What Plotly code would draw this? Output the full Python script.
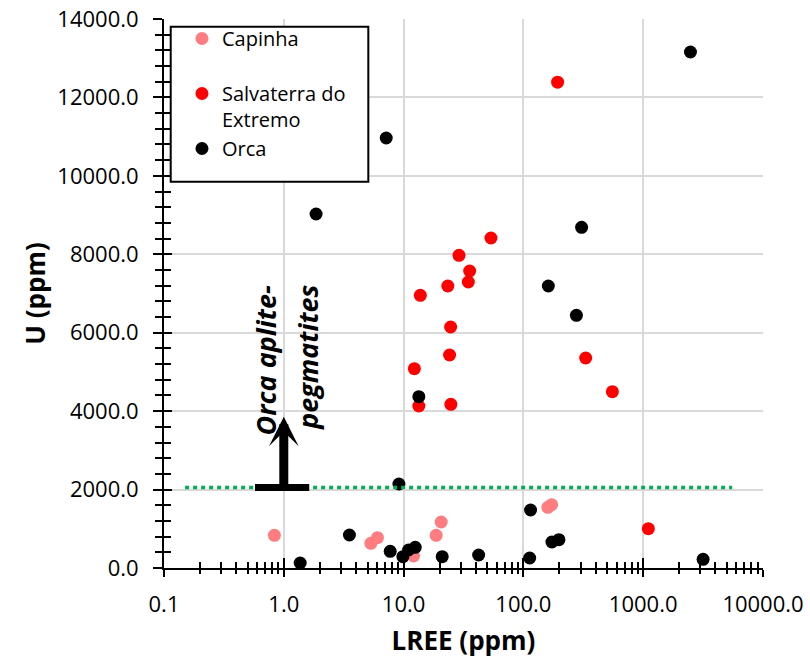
import math
import plotly.graph_objects as go

# ---------------- data ----------------
CAPINHA_LREE = [0.835, 5.33, 6.05, 18.7, 20.6, 12.1, 160, 172]
CAPINHA_U = [834, 629, 773, 834, 1173, 306, 1547, 1615]

SALV_LREE = [193, 53.6, 29.0, 35.6, 34.7, 23.4, 13.8, 24.7, 24.2, 12.3, 331, 553, 13.4, 24.8, 1104]
SALV_U = [12390, 8415, 7973, 7574, 7293, 7191, 6954, 6146, 5432, 5082, 5355, 4496, 4131, 4174, 1003]

ORCA_LREE = [2480, 7.16, 1.86, 306, 161.5, 277, 13.4, 9.14, 3.53, 1.37, 7.73, 9.86, 11.0, 12.5,
             21.0, 42.3, 114.8, 112.8, 173, 198, 3162]
ORCA_U = [13158, 10965, 9027, 8688, 7191, 6444, 4369, 2142, 842, 128, 425, 289, 459, 527,
          288, 332, 1479, 255, 663, 722, 221]

X_TICKS = [0.1, 1, 10, 100, 1000, 10000]
X_TICK_LABELS = ["0.1", "1.0", "10.0", "100.0", "1000.0", "10000.0"]
Y_TICKS = [0, 2000, 4000, 6000, 8000, 10000, 12000, 14000]
Y_TICK_LABELS = ["0.0", "2000.0", "4000.0", "6000.0", "8000.0", "10000.0", "12000.0", "14000.0"]

THRESHOLD_U = 2050            # Orca aplite-pegmatite limit
THRESHOLD_LREE = [0.15, 5530]  # extent of dotted line
ARROW_LREE = 1.0
ARROW_TIP_U = 3860
BAR_LREE = [0.575, 1.63]

FONT = "Open Sans"
C_CAP = "#ff7c80"
C_SAL = "#ff0000"
C_ORC = "#000000"

fig = go.Figure()
fig.add_trace(go.Scatter(x=CAPINHA_LREE, y=CAPINHA_U, mode="markers", name="Capinha<br>\u00a0",
                         marker=dict(color=C_CAP, size=13)))
fig.add_trace(go.Scatter(x=SALV_LREE, y=SALV_U, mode="markers", name="Salvaterra do<br>Extremo",
                         marker=dict(color=C_SAL, size=13)))
fig.add_trace(go.Scatter(x=ORCA_LREE, y=ORCA_U, mode="markers", name="Orca",
                         marker=dict(color=C_ORC, size=13)))
# dummy trace for overlay axes (inner half of crossing ticks)
fig.add_trace(go.Scatter(x=[], y=[], xaxis="x2", yaxis="y2", showlegend=False, hoverinfo="skip"))

fig.update_layout(
    width=810, height=665,
    margin=dict(l=164, r=47, t=19, b=97),
    plot_bgcolor="white", paper_bgcolor="white",
    font=dict(family=FONT, size=22, color="black"),
    showlegend=True,
    legend=dict(x=0.03, y=1.0, xanchor="left", yanchor="top",
                bgcolor="rgba(0,0,0,0)", borderwidth=0,
                font=dict(family=FONT, size=20, color="black"),
                valign="top", itemwidth=30),
    xaxis=dict(type="log", range=[-1, 4], tickmode="array", tickvals=X_TICKS, ticktext=X_TICK_LABELS,
               ticks="outside", ticklen=7, tickwidth=2, tickcolor="black",
               minor=dict(ticks="outside", ticklen=4, tickwidth=1.5, tickcolor="black", dtick="D1", showgrid=False),
               showgrid=True, gridcolor="#d9d9d9", gridwidth=1.5,
               showline=True, linecolor="black", linewidth=2, zeroline=False,
               ticklabelstandoff=9, automargin=False,
               title=dict(text="<b>LREE (ppm)</b>", font=dict(family=FONT, size=26), standoff=14)),
    yaxis=dict(range=[0, 14000], tickmode="array", tickvals=Y_TICKS, ticktext=Y_TICK_LABELS,
               ticks="outside", ticklen=9, tickwidth=2, tickcolor="black",
               minor=dict(ticks="outside", ticklen=7, tickwidth=1.5, tickcolor="black", dtick=400, showgrid=False),
               showgrid=True, gridcolor="#d9d9d9", gridwidth=1.5,
               showline=True, linecolor="black", linewidth=2, zeroline=False,
               ticklabelstandoff=10, automargin=False,
               title=dict(text="<b>U (ppm)</b>", font=dict(family=FONT, size=26), standoff=4)),
    xaxis2=dict(type="log", range=[-1, 4], overlaying="x", anchor="y", side="bottom",
                tickmode="array", tickvals=X_TICKS, showticklabels=False,
                ticks="inside", ticklen=10, tickwidth=2, tickcolor="black",
                minor=dict(ticks="inside", ticklen=6, tickwidth=1.5, tickcolor="black", dtick="D1", showgrid=False),
                showgrid=False, showline=False, zeroline=False, automargin=False),
    yaxis2=dict(range=[0, 14000], overlaying="y", anchor="x", side="left",
                tickmode="array", tickvals=Y_TICKS, showticklabels=False,
                ticks="inside", ticklen=8, tickwidth=2, tickcolor="black",
                minor=dict(ticks="inside", ticklen=7, tickwidth=1.5, tickcolor="black", dtick=400, showgrid=False),
                showgrid=False, showline=False, zeroline=False, automargin=False),
)

# legend frame
fig.add_shape(type="rect", xref="paper", yref="paper", x0=0.0112, x1=0.3411, y0=0.7036, y1=0.986,
              line=dict(color="black", width=2), fillcolor="white", layer="above")

# green dotted threshold line
fig.add_shape(type="line", xref="x", yref="y", x0=THRESHOLD_LREE[0], x1=THRESHOLD_LREE[1],
              y0=THRESHOLD_U, y1=THRESHOLD_U, line=dict(color="#00b050", width=3.5, dash="4px,4px"))
# T bar
fig.add_shape(type="line", xref="x", yref="y", x0=BAR_LREE[0], x1=BAR_LREE[1],
              y0=THRESHOLD_U, y1=THRESHOLD_U, line=dict(color="black", width=7))
# arrow
fig.add_annotation(x=math.log10(ARROW_LREE), y=ARROW_TIP_U, ax=math.log10(ARROW_LREE), ay=THRESHOLD_U,
                   xref="x", yref="y", axref="x", ayref="y", text="", showarrow=True,
                   arrowhead=3, arrowsize=0.55, arrowwidth=9, arrowcolor="black")
# rotated label
fig.add_annotation(x=(265 - 164) / 119.7 - 1, y=3330, xref="x", yref="y", text="<b><i>Orca aplite-</i></b>",
                   textangle=-90, showarrow=False, xanchor="center", yanchor="bottom",
                   font=dict(family=FONT, size=27, color="black"))
fig.add_annotation(x=(306.7 - 164) / 119.7 - 1, y=3480, xref="x", yref="y", text="<b><i>pegmatites</i></b>",
                   textangle=-90, showarrow=False, xanchor="center", yanchor="bottom",
                   font=dict(family=FONT, size=27, color="black"))

fig.write_html("out.html")
